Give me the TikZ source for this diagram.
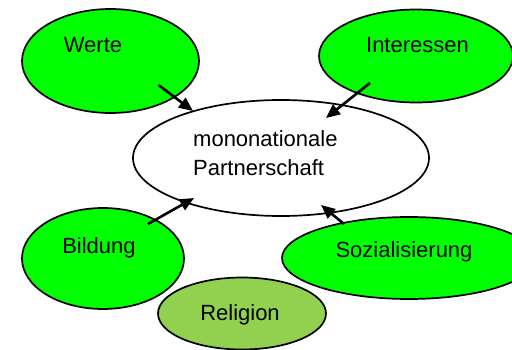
\documentclass[tikz,border=0pt]{standalone}
\usepackage{fontspec}
\setmainfont{Liberation Sans}
\usepackage{xcolor}
\definecolor{olivegreen}{HTML}{92D050}
\usetikzlibrary{arrows.meta,calc,shapes.geometric}

\begin{document}
\begin{tikzpicture}[x=1pt, y=-1pt,
  bubble/.style={ellipse, draw, line width=1.7pt, inner sep=0pt},
  word/.style={font=\fontsize{22}{29}\selectfont, inner sep=0pt, anchor=base},
  link/.style={-{Triangle[length=14pt,width=12pt]}, line width=2.6pt}]
  \useasboundingbox (0,0) rectangle (512,350);
  \clip (0,0) rectangle (512,350);
  % Centre
  \node[bubble, fill=white, minimum width=296pt, minimum height=116pt] (partner) at (281,158) {};
  \node[word, anchor=base west, align=left] (partnertext) at (193,176) {mononationale\\Partnerschaft};
  % Influences
  \node[bubble, fill=green, minimum width=177pt, minimum height=104pt] (werte) at (110.5,61) {};
  \node[word] (wertetext) at (93,53) {Werte};
  \node[bubble, fill=green, minimum width=194pt, minimum height=93pt] (interessen) at (416,56) {};
  \node[word] (interessentext) at (417.5,53) {Interessen};
  \node[bubble, fill=green, minimum width=162pt, minimum height=101pt] (bildung) at (103,258.5) {};
  \node[word] (bildungtext) at (99,254) {Bildung};
  \node[bubble, fill=green, minimum width=254pt, minimum height=82pt] (sozial) at (409,258) {};
  \node[word] (sozialtext) at (404,258) {Sozialisierung};
  \node[bubble, fill=olivegreen, minimum width=168pt, minimum height=72pt] (religion) at (242,313.5) {};
  \node[word] (religiontext) at (240,320) {Religion};
  % Arrows into the centre
  \draw[link] ($(werte)+(48,24)$) -- ($(partner)+(-88,-47)$);
  \draw[link] ($(interessen)+(-46,27)$) -- ($(partner)+(45,-40)$);
  \draw[link] ($(bildung)+(45,-34.5)$) -- ($(partner)+(-87,40)$);
  \draw[link] ($(sozial)+(-65,-34)$) -- ($(partner)+(40,47)$);
\end{tikzpicture}
\end{document}
